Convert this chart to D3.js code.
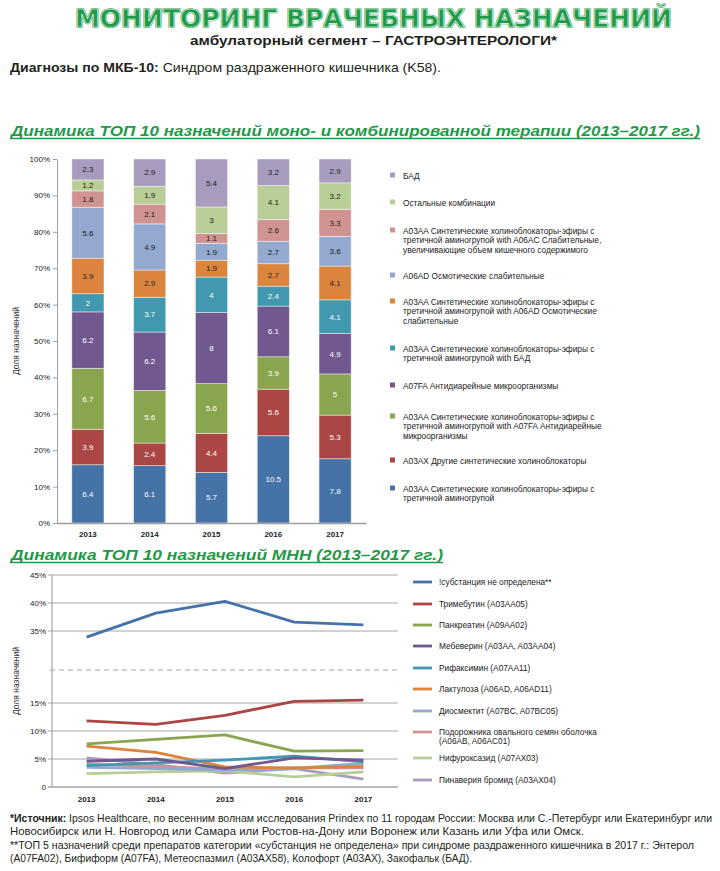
<!DOCTYPE html>
<html><head><meta charset="utf-8">
<script src="https://cdn.jsdelivr.net/npm/d3@7"></script>
<style>
html,body{margin:0;padding:0;background:#fff;}
svg{display:block;}
text{font-family:"Liberation Sans",Arial,sans-serif;}
</style></head>
<body>
<svg id="c" width="720" height="871"></svg>
<script>
// ---------- DATA ----------
const years = ["2013","2014","2015","2016","2017"];

// stacked bar chart (bottom → top)
const barSeriesNames = [
  "A03AA Синтетические холиноблокаторы-эфиры с|третичной аминогрупой",
  "A03AX Другие синтетические холиноблокаторы",
  "A03AA Синтетические холиноблокаторы-эфиры с|третичной аминогрупой with A07FA Антидиарейные|микроорганизмы",
  "A07FA Антидиарейные микроорганизмы",
  "A03AA Синтетические холиноблокаторы-эфиры с|третичной аминогрупой with БАД",
  "A03AA Синтетические холиноблокаторы-эфиры с|третичной аминогрупой with A06AD Осмотические|слабительные",
  "A06AD Осмотические слабительные",
  "A03AA Синтетические холиноблокаторы-эфиры с|третичной аминогрупой with A06AC Слабительные,|увеличивающие объем кишечного  содержимого",
  "Остальные комбинации",
  "БАД"
];
const bar_A03AA      = [6.4, 6.1, 5.7, 10.5, 7.8];
const bar_A03AX      = [3.9, 2.4, 4.4, 5.6, 5.3];
const bar_A03AA_A07FA= [6.7, 5.6, 5.6, 3.9, 5];
const bar_A07FA      = [6.2, 6.2, 8, 6.1, 4.9];
const bar_A03AA_BAD  = [2, 3.7, 4, 2.4, 4.1];
const bar_A03AA_A06AD= [3.9, 2.9, 1.9, 2.7, 4.1];
const bar_A06AD      = [5.6, 4.9, 1.9, 2.7, 3.6];
const bar_A03AA_A06AC= [1.8, 2.1, 1.1, 2.6, 3.3];
const bar_other      = [1.2, 1.9, 3, 4.1, 3.2];
const bar_BAD        = [2.3, 2.9, 5.4, 3.2, 2.9];
const barValues = [bar_A03AA, bar_A03AX, bar_A03AA_A07FA, bar_A07FA, bar_A03AA_BAD,
                   bar_A03AA_A06AD, bar_A06AD, bar_A03AA_A06AC, bar_other, bar_BAD];
const barTicks = [0,10,20,30,40,50,60,70,80,90,100];

// line chart (МНН)
const lineNames = [
  "!субстанция не определена**",
  "Тримебутин (A03AA05)",
  "Панкреатин (A09AA02)",
  "Мебеверин (A03AA, A03AA04)",
  "Рифаксимин (A07AA11)",
  "Лактулоза (A06AD, A06AD11)",
  "Диосмектит (A07BC, A07BC05)",
  "Подорожника овального семян оболочка|(A06AB, A06AC01)",
  "Нифуроксазид (A07AX03)",
  "Пинаверия бромид (A03AX04)"
];
const ln_subst  = [33.9, 38.2, 40.3, 36.6, 36.1];
const ln_trimeb = [11.8, 11.2, 12.8, 15.3, 15.5];
const ln_pankr  = [7.7, 8.5, 9.3, 6.4, 6.5];
const ln_mebev  = [4.6, 5.0, 3.3, 5.2, 4.8];
const ln_rifax  = [3.8, 4.3, 4.8, 5.5, 4.5];
const ln_laktul = [7.3, 6.2, 3.6, 3.4, 3.7];
const ln_diosm  = [3.5, 3.3, 3.0, 3.3, 4.2];
const ln_podor  = [4.1, 3.7, 3.2, 3.4, 3.4];
const ln_nifur  = [2.4, 2.7, 2.9, 1.8, 2.7];
const ln_pinav  = [5.2, 4.0, 2.5, 3.3, 1.4];
const lineValues = [ln_subst, ln_trimeb, ln_pankr, ln_mebev, ln_rifax, ln_laktul, ln_diosm, ln_podor, ln_nifur, ln_pinav];
const lineTicksLow = [0,5,10,15];
const lineTicksHigh = [35,40,45];

// ---------- STYLE ----------
const palette = ["#4573A7","#AA4643","#89A54E","#71588F","#4198AF","#DB843D","#93A9CF","#D19392","#B9CD96","#A99BBD"];
const labelDark = [false,false,false,false,false,true,true,true,true,true];
const green = "#1F9A48";

const svg = d3.select("#c");

// ---------- HEADER ----------
const title = "МОНИТОРИНГ ВРАЧЕБНЫХ НАЗНАЧЕНИЙ";
svg.append("text").attr("x",75).attr("y",27).text(title)
  .attr("textLength",597).attr("lengthAdjust","spacingAndGlyphs")
  .style("font-family","'DejaVu Sans',sans-serif").style("font-weight","bold").style("font-size","24px")
  .attr("fill",green).attr("stroke",green).attr("stroke-width",1.6).attr("stroke-linejoin","round");
svg.append("text").attr("x",75).attr("y",27).text(title)
  .attr("textLength",597).attr("lengthAdjust","spacingAndGlyphs")
  .style("font-family","'DejaVu Sans',sans-serif").style("font-weight","bold").style("font-size","24px")
  .attr("fill","none").attr("stroke","#fff").attr("stroke-width",0.6);

svg.append("text").attr("x",190).attr("y",45).text("амбулаторный сегмент – ГАСТРОЭНТЕРОЛОГИ*")
  .attr("textLength",367).attr("lengthAdjust","spacingAndGlyphs")
  .style("font-family","'Liberation Sans Narrow','Liberation Sans',sans-serif").style("font-weight","bold").style("font-size","13px")
  .attr("fill","#231f20");

const diag = svg.append("text").attr("x",10).attr("y",72)
  .attr("textLength",431).attr("lengthAdjust","spacingAndGlyphs")
  .style("font-family","'Liberation Sans Narrow','Liberation Sans',sans-serif").style("font-size","13.5px").attr("fill","#231f20");
diag.append("tspan").style("font-weight","bold").text("Диагнозы по МКБ-10:");
diag.append("tspan").text(" Синдром раздраженного кишечника (K58).");

function heading(txt, y, x2){
  svg.append("text").attr("x",11).attr("y",y).text(txt)
    .attr("textLength",x2-11).attr("lengthAdjust","spacingAndGlyphs")
    .style("font-weight","bold").style("font-style","italic").style("font-size","15px")
    .attr("fill",green);
  svg.append("line").attr("x1",10).attr("x2",x2).attr("y1",y+2.5).attr("y2",y+2.5)
    .attr("stroke",green).attr("stroke-width",1.3);
}
heading("Динамика ТОП 10 назначений моно- и комбинированной терапии (2013–2017 гг.)",136,700);
heading("Динамика ТОП 10 назначений МНН (2013–2017 гг.)",560,443);

// ---------- STACKED BAR CHART ----------
const xBar = d3.scaleBand().domain(years).range([57,366]).paddingInner(0.48).paddingOuter(0.24);
const yBar = d3.scaleLinear().domain([0,100]).range([523,159]);

const barRows = years.map((y,i)=>{const o={year:y}; barValues.forEach((s,k)=>o["s"+k]=s[i]); return o;});
const keys = barValues.map((s,k)=>"s"+k);
const stacked = d3.stack().keys(keys).offset(d3.stackOffsetExpand)(barRows);

const gB = svg.append("g");
stacked.forEach((layer,k)=>{
  const g = gB.append("g");
  g.selectAll("rect").data(layer).join("rect")
    .attr("x",d=>xBar(d.data.year)).attr("width",xBar.bandwidth())
    .attr("y",d=>yBar(d[1]*100)).attr("height",d=>yBar(d[0]*100)-yBar(d[1]*100))
    .attr("fill",palette[k]).attr("stroke","#fff").attr("stroke-opacity",0.55).attr("stroke-width",0.8);
  g.selectAll("text").data(layer).join("text")
    .attr("x",d=>xBar(d.data.year)+xBar.bandwidth()/2)
    .attr("y",d=>yBar((d[0]+d[1])/2*100)).attr("dy","0.35em")
    .attr("text-anchor","middle").style("font-size","8px")
    .attr("fill",labelDark[k]?"#222":"#fff")
    .text(d=>d.data["s"+k]);
});

const yAxB = svg.append("g").attr("transform","translate(57,0)")
  .call(d3.axisLeft(yBar).tickValues(barTicks).tickFormat(d=>d+"%").tickSize(4).tickSizeOuter(0));
yAxB.select(".domain").attr("stroke","#a0a0a0");
yAxB.selectAll(".tick line").attr("stroke","#a0a0a0");
yAxB.selectAll("text").style("font-size","8px").attr("fill","#222").style("font-family","'Liberation Sans',Arial,sans-serif");

const xAxB = svg.append("g").attr("transform","translate(0,523)")
  .call(d3.axisBottom(xBar).tickSize(0).tickPadding(8));
xAxB.select(".domain").attr("stroke","#a0a0a0").attr("stroke-width",1.5);
xAxB.selectAll("text").style("font-size","8px").style("font-weight","bold").attr("fill","#222").style("font-family","'Liberation Sans',Arial,sans-serif");

svg.append("text").attr("transform","translate(19,341) rotate(-90)").attr("text-anchor","middle")
  .style("font-size","8.5px").attr("fill","#333").text("Доля назначений");

// legend 1 (top → bottom)
const leg1Y = [176,203,231,276,302,349,386,417,461,489];
const legendOrder = d3.range(9,-1,-1);
legendOrder.forEach((k,i)=>{
  const y = leg1Y[i];
  svg.append("rect").attr("x",390).attr("y",y-3.5).attr("width",5).attr("height",5).attr("fill",palette[k]);
  const lines = barSeriesNames[k].split("|");
  const t = svg.append("text").attr("x",403).attr("y",y).attr("dy","0.35em").style("font-size","8.3px").attr("fill","#222");
  lines.forEach((l,j)=>t.append("tspan").attr("x",403).attr("dy",j===0?"0.35em":"9.5").text(l));
});

// ---------- LINE CHART (broken axis) ----------
const xLine = d3.scaleBand().domain(years).range([52,398]);
const yLow = d3.scaleLinear().domain([0,15]).range([787,703]);
const yHigh = d3.scaleLinear().domain([35,45]).range([631,575]);
const yL = v => v > 25 ? yHigh(v) : yLow(v);
const breakY = 670;

const gL = svg.append("g");
const allTicks = lineTicksLow.concat(lineTicksHigh);
allTicks.forEach(t=>{
  gL.append("line").attr("x1",48).attr("x2",398).attr("y1",yL(t)).attr("y2",yL(t))
    .attr("stroke","#a6a6a6").attr("stroke-width",t===0?1.5:1.2);
  gL.append("text").attr("x",46).attr("y",yL(t)).attr("dy","0.35em").attr("text-anchor","end")
    .style("font-size","8px").attr("fill","#222").text(t===0?"0":t+"%");
});
gL.append("line").attr("x1",52).attr("x2",52).attr("y1",yHigh(45)).attr("y2",yLow(0)).attr("stroke","#a6a6a6").attr("stroke-width",1.2);
gL.append("line").attr("x1",50).attr("x2",398).attr("y1",breakY).attr("y2",breakY)
  .attr("stroke","#a6a6a6").attr("stroke-width",1).attr("stroke-dasharray","5,4");

const xAxL = svg.append("g").attr("transform","translate(0,787)")
  .call(d3.axisBottom(xLine).tickSize(0).tickPadding(9));
xAxL.select(".domain").remove();
xAxL.selectAll("text").style("font-size","8px").style("font-weight","bold").attr("fill","#222").style("font-family","'Liberation Sans',Arial,sans-serif");

svg.append("text").attr("transform","translate(19,681) rotate(-90)").attr("text-anchor","middle")
  .style("font-size","8.5px").attr("fill","#333").text("Доля назначений");

const lineGen = d3.line().x((d,i)=>xLine(years[i])+xLine.bandwidth()/2).y(d=>yL(d));
for(let k=lineValues.length-1;k>=0;k--){
  gL.append("path").attr("d",lineGen(lineValues[k])).attr("fill","none")
    .attr("stroke",palette[k]).attr("stroke-width",2.8).attr("stroke-linejoin","round");
}

// legend 2
const leg2Y = [582,604,625,646,668,689,711,732,758,780];
lineNames.forEach((n,k)=>{
  const y = leg2Y[k];
  svg.append("line").attr("x1",413).attr("x2",432).attr("y1",y).attr("y2",y).attr("stroke",palette[k]).attr("stroke-width",2.8);
  const t = svg.append("text").attr("x",439).attr("y",y).style("font-size","8.3px").attr("fill","#222");
  n.split("|").forEach((l,j)=>t.append("tspan").attr("x",439).attr("dy",j===0?"0.35em":"9.5").text(l));
});

// ---------- FOOTNOTE ----------
const fnFont = "'Liberation Sans Narrow','Liberation Sans',sans-serif";
function fnLine(parts, y, x2){
  const t = svg.append("text").attr("x",10).attr("y",y).attr("textLength",x2-10).attr("lengthAdjust","spacingAndGlyphs")
    .style("font-family",fnFont).style("font-size","10.5px").attr("fill","#231f20");
  parts.forEach(p=>t.append("tspan").style("font-weight",p[1]?"bold":"normal").text(p[0]));
}
fnLine([["*Источник:",true],[" Ipsos Healthcare, по весенним волнам исследования Prindex по 11 городам России: Москва или С.-Петербург или Екатеринбург или",false]],822,712);
fnLine([["Новосибирск или Н. Новгород или Самара или Ростов-на-Дону или Воронеж или Казань или Уфа или Омск.",false]],835,584);
fnLine([["**ТОП 5 назначений среди препаратов категории «субстанция не определена» при синдроме раздраженного кишечника в 2017 г.: Энтерол",false]],849,694);
fnLine([["(A07FA02), Бифиформ (A07FA), Метеоспазмил (A03AX58), Колофорт (A03AX), Закофальк (БАД).",false]],862,472);
</script>
</body></html>
